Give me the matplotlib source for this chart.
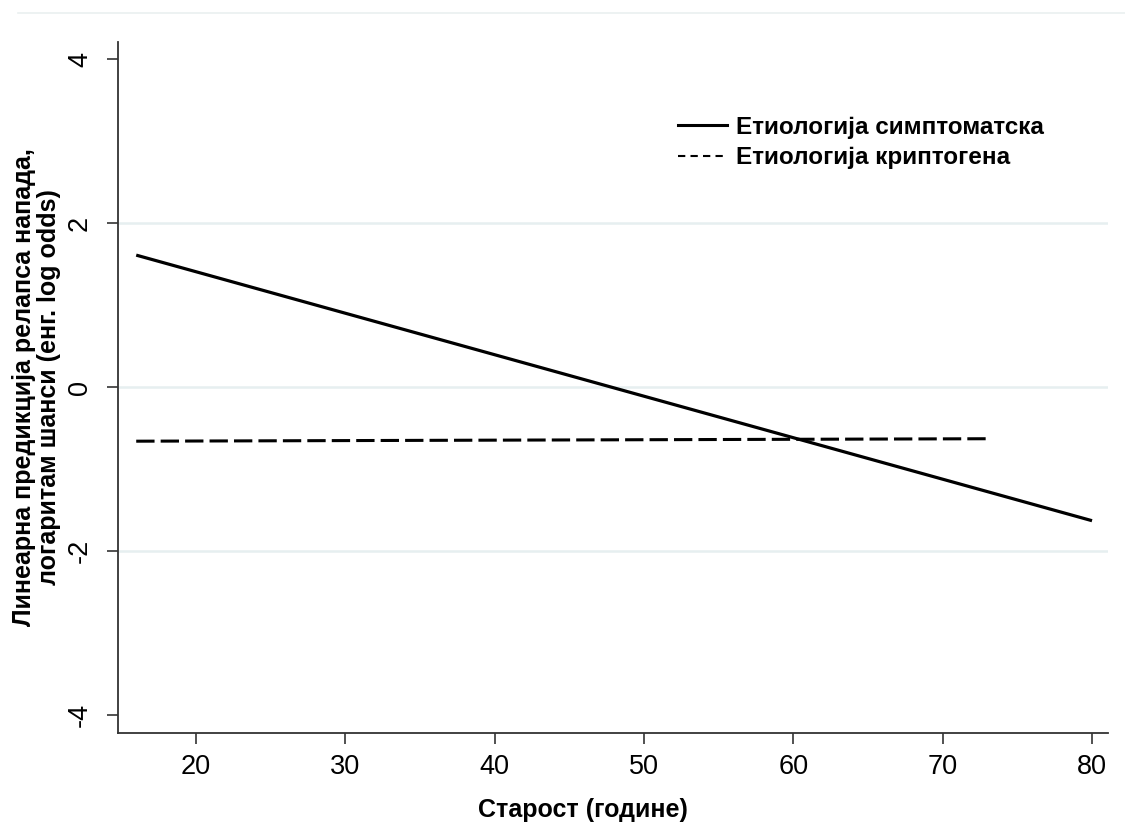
import matplotlib
matplotlib.use("Agg")
import matplotlib.pyplot as plt
from matplotlib.lines import Line2D

plt.rcParams['font.family'] = ['Liberation Sans', 'DejaVu Sans']

# Data
age_sym = [16, 80]
pred_sym = [1.61, -1.63]
age_crypt = [16, 73]
pred_crypt = [-0.66, -0.63]
xticks = [20, 30, 40, 50, 60, 70, 80]
yticks = [-4, -2, 0, 2, 4]
grid_y = [-2, 0, 2]
label_sym = "Етиологија симптоматска"
label_crypt = "Етиологија криптогена"
xlabel = "Старост (године)"
ylabel = "Линеарна предикција релапса напада,\nлогаритам шанси (енг. log odds)"

fig = plt.figure(figsize=(11.25, 8.23), dpi=100)
ax = fig.add_axes([118/1125, 1-733/823, (1108-118)/1125, (733-42)/823])

# top border line of graph region
fig.add_artist(Line2D([18/1125, 1.0], [1-13/823, 1-13/823], color='#eaf0f0', lw=1.2))

for g in grid_y:
    ax.axhline(g, color='#e6eff0', lw=1.8, zorder=0)

ax.plot(age_sym, pred_sym, color='black', lw=2.3, solid_capstyle='butt')
ax.plot(age_crypt, pred_crypt, color='black', lw=2.2, dashes=(6, 2))

ax.set_xlim(14.78, 81.07)
ax.set_ylim(-4.22, 4.21)
ax.set_xticks(xticks)
ax.set_yticks(yticks)
ax.set_yticklabels([str(t) for t in yticks], rotation=90, va='center')
ax.tick_params(axis='both', direction='out', length=8, width=1.2, labelsize=19.5, color='#333333')
ax.tick_params(axis='x', pad=7)
ax.tick_params(axis='y', pad=10)
for s in ['top', 'right']:
    ax.spines[s].set_visible(False)
for s in ['left', 'bottom']:
    ax.spines[s].set_linewidth(1.3)
    ax.spines[s].set_color('#333333')

ax.set_xlabel(xlabel, fontsize=18, fontweight='bold', labelpad=14)
ax.xaxis.set_label_coords(0.47, -0.094)
ax.set_ylabel(ylabel, fontsize=18, fontweight='bold', labelpad=4, linespacing=1.1)

handles = [Line2D([], [], color='black', lw=2.2),
           Line2D([], [], color='black', lw=1.5, dashes=(3.5, 2.5))]
leg = ax.legend(handles, [label_sym, label_crypt], loc='upper left',
                bbox_to_anchor=(678/1125, 1-116/823), bbox_transform=fig.transFigure,
                frameon=False, prop={'size': 17.5, 'weight': 'bold'},
                handlelength=2.0, handletextpad=0.4, labelspacing=0.3, borderpad=0,
                borderaxespad=0)

fig.savefig("out.png", dpi=100)
